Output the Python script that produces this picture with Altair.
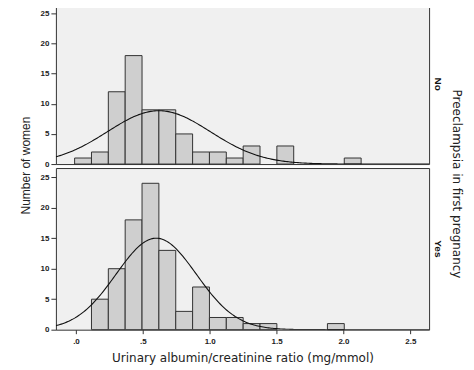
import altair as alt
import pandas as pd

# bin starts (mg/mmol), bin width
bin_starts = [-0.01, 0.116, 0.242, 0.368, 0.494, 0.62, 0.746, 0.872, 0.998,
              1.124, 1.25, 1.376, 1.502, 1.628, 1.754, 1.88, 2.006]
bin_width = 0.126
counts_no = [1, 2, 12, 18, 9, 9, 5, 2, 2, 1, 3, 0, 3, 0, 0, 0, 1]
counts_yes = [0, 5, 10, 18, 24, 13, 3, 7, 2, 2, 1, 1, 0, 0, 0, 1, 0]

groups = ["No", "Yes"]
curve_peak = [8.85, 15.0]
curve_mean = [0.62, 0.60]
curve_sd = [0.385, 0.30]

x_ticks = [0.0, 0.5, 1.0, 1.5, 2.0, 2.5]
y_ticks = [0, 5, 10, 15, 20, 25]
x_domain = [-0.15, 2.64]
y_domain = [0, 26.5]

FONT = "Liberation Sans"
TFONT = "DejaVu Sans"

def bars_df(counts):
    rows = []
    for s, c in zip(bin_starts, counts):
        if c > 0:
            rows.append({"start": s, "end": s + bin_width, "count": c})
    return pd.DataFrame(rows)

def panel(i, counts, height, show_x, show_ytitle):
    xscale = alt.Scale(domain=x_domain, nice=False, zero=False)
    yscale = alt.Scale(domain=y_domain, nice=False)
    if show_x:
        xaxis = alt.Axis(values=x_ticks, title="Urinary albumin/creatinine ratio (mg/mmol)",
                         labelExpr="datum.value < 1 ? replace(format(datum.value, '.1f'), '0.', '.') : format(datum.value, '.1f')",
                         grid=False, domain=False, tickSize=4, tickColor="#333",
                         labelFont=FONT, labelFontSize=8, labelFontWeight="bold", labelColor="#222",
                         labelPadding=4, titleFont=TFONT, titleFontSize=12, titleFontWeight="normal",
                         titleColor="#222", titlePadding=7)
    else:
        xaxis = None
    yaxis = alt.Axis(values=y_ticks, grid=False, domain=False, tickSize=5, tickColor="#333",
                     labelFont=FONT, labelFontSize=8, labelFontWeight="bold", labelColor="#222",
                     labelPadding=2,
                     title="Number of women" if show_ytitle else None,
                     titleFont=FONT, titleFontSize=12, titleFontWeight="normal", titleColor="#222",
                     titlePadding=8, **({"titleY": -3} if show_ytitle else {}))
    bars = alt.Chart(bars_df(counts)).mark_rect(
        fill="#cfcfcf", stroke="#333", strokeWidth=1
    ).encode(
        x=alt.X("start:Q", scale=xscale, axis=xaxis),
        x2="end:Q",
        y=alt.Y("count:Q", scale=yscale, axis=yaxis),
        y2=alt.datum(0),
    )
    curve = alt.Chart(alt.sequence(x_domain[0], x_domain[1] + 0.005, 0.01, as_="x")).transform_calculate(
        y=f"{curve_peak[i]} * exp(-0.5 * pow((datum.x - {curve_mean[i]}) / {curve_sd[i]}, 2))"
    ).mark_line(color="#111", strokeWidth=1.1, clip=True).encode(
        x=alt.X("x:Q", scale=xscale, axis=xaxis),
        y=alt.Y("y:Q", scale=yscale, axis=yaxis),
    )
    return alt.layer(bars, curve).properties(
        width=374, height=height,
        title=alt.TitleParams(groups[i], orient="right", anchor="middle", font=FONT,
                              fontSize=10, fontWeight="bold", color="#111", offset=4),
    )

top = panel(0, counts_no, 160, False, False)
bottom = panel(1, counts_yes, 162, True, True)

chart = alt.vconcat(top, bottom, spacing=4, bounds="flush").properties(
    padding={"left": 10, "top": -5, "right": 3, "bottom": 0},
    background="white",
    title=alt.TitleParams("Preeclampsia in first pregnancy", orient="right", anchor="middle",
                          font=TFONT, fontSize=12, fontWeight="normal", color="#222", offset=6),
).configure_view(fill="#f0f0f0", stroke="#333", strokeWidth=1)

chart.save("out.html", embed_options={"renderer": "svg", "actions": False})
